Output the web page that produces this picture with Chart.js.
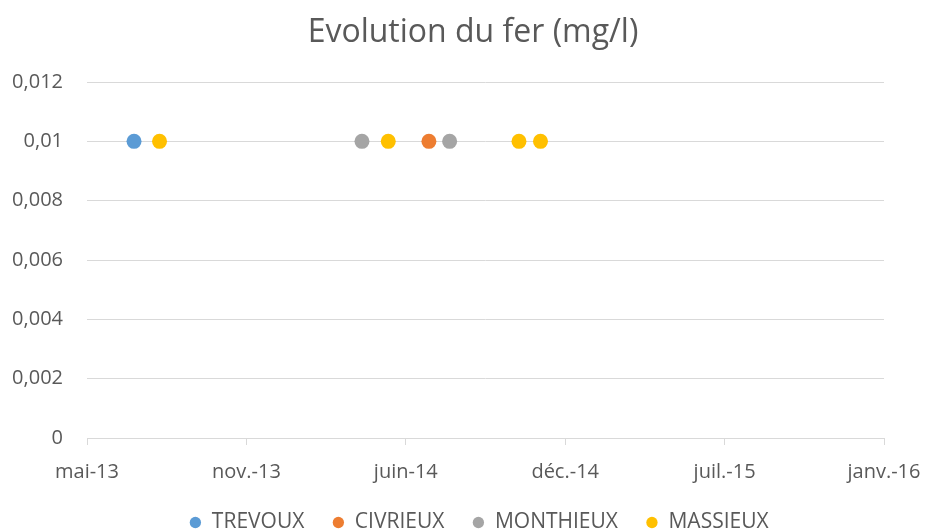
<!DOCTYPE html>
<html lang="fr">
  <head>
    <meta charset="UTF-8" />
    <title>Evolution du fer</title>
    <script src="https://cdn.jsdelivr.net/npm/chart.js"></script>
    <style>
      html, body { margin: 0; padding: 0; background: #fff; }
      .chart-box { width: 927px; height: 531px; }
    </style>
  </head>
  <body>
    <div class="chart-box">
      <canvas id="myChart"></canvas>
    </div>
    <script>
      // axe des dates : début mai-13, un repère tous les 200 jours
      const axisStart = "2013-05-01";
      const xTickLabels = ["mai-13", "nov.-13", "juin-14", "déc.-14", "juil.-15", "janv.-16"];
      const yTicks = [0, 0.002, 0.004, 0.006, 0.008, 0.01, 0.012];

      const trevouxDates = ["2013-06-29"];
      const trevouxValues = [0.01];
      const civrieuxDates = ["2014-07-04"];
      const civrieuxValues = [0.01];
      const monthieuxDates = ["2014-04-11", "2014-07-30"];
      const monthieuxValues = [0.01, 0.01];
      const massieuxDates = ["2013-07-31", "2014-05-14", "2014-10-25", "2014-11-21"];
      const massieuxValues = [0.01, 0.01, 0.01, 0.01];

      const dayOf = function (d) {
        return (Date.parse(d) - Date.parse(axisStart)) / 86400000;
      };
      const toPoints = function (dates, values) {
        return dates.map(function (d, i) {
          return { x: dayOf(d), y: values[i] };
        });
      };
      const serie = function (label, dates, values, color) {
        return {
          label: label,
          data: toPoints(dates, values),
          backgroundColor: color,
          borderColor: color,
          borderWidth: 0,
          pointRadius: 7.5,
          pointHoverRadius: 7.5,
          showLine: false,
        };
      };

      const txt = "#595959";
      const grid = "#d9d9d9";
      const font = "'Open Sans', sans-serif";

      // titre et légende centrés sur la zone de tracé, comme dans Excel
      const centerOnPlot = {
        id: "centerOnPlot",
        afterLayout: function (chart) {
          chart.legend.left += 37;
          chart.legend.right += 37;
          chart.titleBlock.left += 31;
          chart.titleBlock.right += 31;
        },
      };

      const ctx = document.getElementById("myChart");
      const myChart = new Chart(ctx, {
        type: "scatter",
        data: {
          datasets: [
            serie("TREVOUX", trevouxDates, trevouxValues, "#5b9bd5"),
            serie("CIVRIEUX", civrieuxDates, civrieuxValues, "#ed7d31"),
            serie("MONTHIEUX", monthieuxDates, monthieuxValues, "#a5a5a5"),
            serie("MASSIEUX", massieuxDates, massieuxValues, "#ffc000"),
          ],
        },
        plugins: [centerOnPlot],
        options: {
          responsive: true,
          maintainAspectRatio: false,
          animation: false,
          layout: { padding: { left: 0, right: 43, top: 0, bottom: -12 } },
          plugins: {
            title: {
              display: true,
              text: "Evolution du fer (mg/l)",
              color: txt,
              font: { family: font, size: 32, weight: "normal" },
              padding: { top: 14, bottom: 29.6 },
            },
            legend: {
              position: "bottom",
              labels: {
                color: txt,
                font: { family: font, size: 21 },
                usePointStyle: true,
                pointStyle: "circle",
                boxWidth: 12,
                boxHeight: 8,
                padding: 28,
              },
            },
            tooltip: { enabled: false },
          },
          scales: {
            x: {
              type: "linear",
              min: 0,
              max: 1000,
              border: { color: grid },
              grid: { drawOnChartArea: false, color: grid, tickLength: 7 },
              afterFit: function (scale) {
                scale.height = 46;
                scale.paddingLeft = 0;
                scale.paddingRight = 0;
              },
              ticks: {
                stepSize: 200,
                color: txt,
                font: { family: font, size: 20 },
                padding: 15,
                maxRotation: 0,
                callback: function (v, i) {
                  return xTickLabels[i];
                },
              },
            },
            y: {
              min: 0,
              max: 0.012,
              border: { display: false },
              grid: { color: grid, drawTicks: false },
              afterFit: function (scale) {
                scale.width = 87;
              },
              afterBuildTicks: function (scale) {
                scale.ticks = yTicks.map(function (v) {
                  return { value: v };
                });
              },
              ticks: {
                color: txt,
                font: { family: font, size: 20 },
                padding: 24,
                callback: function (v) {
                  return String(v).replace(".", ",");
                },
              },
            },
          },
        },
      });
    </script>
  </body>
</html>
